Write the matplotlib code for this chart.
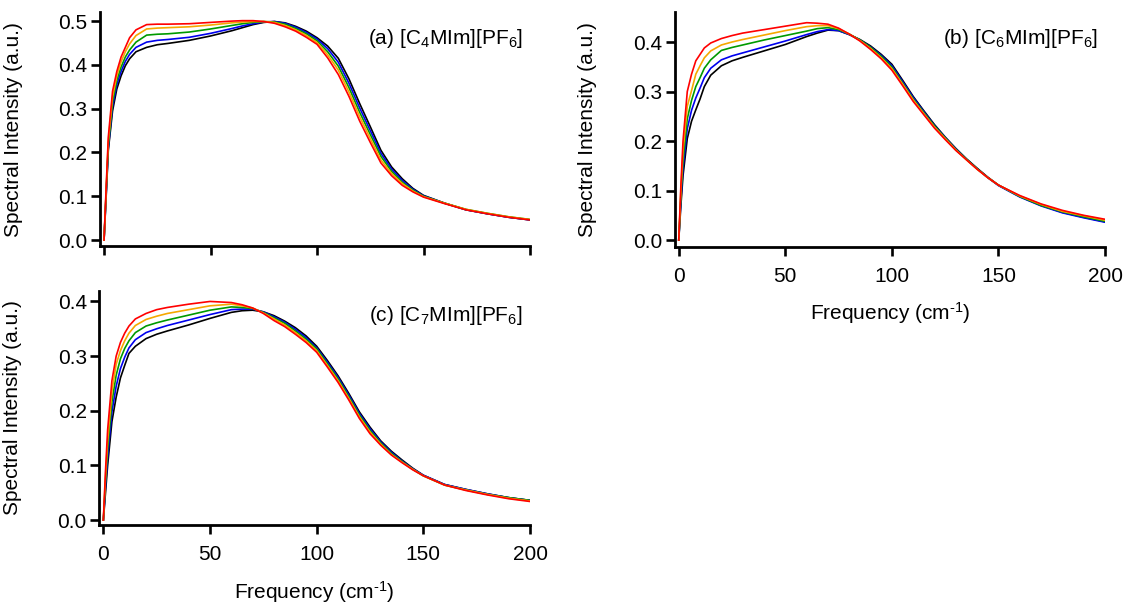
# -*- coding: utf-8 -*-
import numpy as np
import matplotlib
matplotlib.use("Agg")
import matplotlib.pyplot as plt

# --------------------
# data
# --------------------
freq = [0, 1, 2, 4, 6, 8, 10, 12, 15, 20, 25, 30, 40, 50, 60, 65, 70, 75, 80, 85, 90, 95, 100,
        105, 110, 115, 120, 125, 130, 135, 140, 145, 150, 160, 170, 180, 190, 200]

# (a) [C4MIm][PF6]
a_black = [0, 0.100, 0.205, 0.295, 0.345, 0.375, 0.398, 0.414, 0.430, 0.440, 0.446, 0.449, 0.456, 0.466, 0.478, 0.485, 0.492, 0.497, 0.499, 0.496, 0.488, 0.477, 0.462,
           0.443, 0.415, 0.368, 0.312, 0.259, 0.205, 0.167, 0.140, 0.118, 0.102, 0.084, 0.069, 0.060, 0.052, 0.046]
a_blue = [0, 0.105, 0.210, 0.305, 0.355, 0.385, 0.408, 0.424, 0.440, 0.452, 0.456, 0.458, 0.463, 0.472, 0.483, 0.489, 0.494, 0.498, 0.499, 0.495, 0.486, 0.474, 0.459,
          0.437, 0.406, 0.358, 0.302, 0.250, 0.198, 0.162, 0.136, 0.116, 0.101, 0.084, 0.069, 0.060, 0.052, 0.046]
a_green = [0, 0.110, 0.215, 0.315, 0.365, 0.395, 0.418, 0.434, 0.452, 0.468, 0.470, 0.471, 0.475, 0.482, 0.490, 0.494, 0.497, 0.499, 0.498, 0.493, 0.483, 0.471, 0.455,
           0.430, 0.397, 0.348, 0.292, 0.241, 0.191, 0.157, 0.132, 0.114, 0.100, 0.084, 0.070, 0.061, 0.053, 0.047]
a_orange = [0, 0.115, 0.225, 0.327, 0.375, 0.407, 0.430, 0.448, 0.467, 0.482, 0.484, 0.485, 0.487, 0.491, 0.496, 0.498, 0.499, 0.499, 0.497, 0.490, 0.480, 0.467, 0.451,
            0.423, 0.388, 0.338, 0.282, 0.232, 0.183, 0.152, 0.129, 0.112, 0.099, 0.084, 0.070, 0.061, 0.053, 0.047]
a_red = [0, 0.120, 0.235, 0.340, 0.385, 0.418, 0.440, 0.462, 0.480, 0.492, 0.493, 0.493, 0.494, 0.497, 0.500, 0.501, 0.501, 0.499, 0.495, 0.487, 0.477, 0.463, 0.447,
         0.416, 0.378, 0.328, 0.272, 0.223, 0.176, 0.147, 0.125, 0.110, 0.098, 0.083, 0.069, 0.060, 0.052, 0.046]

# (b) [C6MIm][PF6]
b_black = [0, 0.070, 0.130, 0.205, 0.240, 0.263, 0.285, 0.310, 0.333, 0.352, 0.362, 0.369, 0.382, 0.395, 0.411, 0.418, 0.424, 0.423, 0.415, 0.405, 0.392, 0.375, 0.355,
           0.323, 0.290, 0.261, 0.233, 0.208, 0.185, 0.164, 0.145, 0.127, 0.111, 0.088, 0.070, 0.056, 0.046, 0.037]
b_blue = [0, 0.080, 0.145, 0.225, 0.262, 0.287, 0.307, 0.328, 0.347, 0.364, 0.372, 0.378, 0.390, 0.402, 0.415, 0.421, 0.425, 0.423, 0.415, 0.404, 0.390, 0.373, 0.352,
          0.320, 0.288, 0.259, 0.231, 0.207, 0.184, 0.163, 0.144, 0.126, 0.110, 0.087, 0.069, 0.055, 0.045, 0.036]
b_green = [0, 0.090, 0.160, 0.245, 0.282, 0.310, 0.328, 0.347, 0.364, 0.383, 0.389, 0.394, 0.404, 0.413, 0.422, 0.427, 0.429, 0.425, 0.416, 0.404, 0.389, 0.371, 0.349,
           0.317, 0.285, 0.257, 0.230, 0.206, 0.183, 0.163, 0.144, 0.126, 0.111, 0.088, 0.070, 0.057, 0.047, 0.038]
b_orange = [0, 0.100, 0.180, 0.270, 0.302, 0.335, 0.352, 0.368, 0.382, 0.394, 0.400, 0.405, 0.414, 0.423, 0.431, 0.433, 0.433, 0.427, 0.416, 0.403, 0.387, 0.368, 0.346,
            0.315, 0.283, 0.255, 0.228, 0.205, 0.182, 0.162, 0.143, 0.126, 0.111, 0.089, 0.072, 0.058, 0.049, 0.040]
b_red = [0, 0.110, 0.200, 0.300, 0.335, 0.362, 0.375, 0.388, 0.398, 0.407, 0.413, 0.418, 0.425, 0.432, 0.439, 0.438, 0.436, 0.428, 0.416, 0.402, 0.385, 0.366, 0.343,
         0.312, 0.280, 0.253, 0.226, 0.203, 0.181, 0.162, 0.143, 0.126, 0.111, 0.090, 0.073, 0.060, 0.050, 0.042]

# (c) [C7MIm][PF6]
c_black = [0, 0.050, 0.100, 0.180, 0.225, 0.260, 0.283, 0.305, 0.318, 0.332, 0.340, 0.346, 0.357, 0.369, 0.380, 0.383, 0.384, 0.381, 0.374, 0.364, 0.352, 0.337, 0.318,
           0.292, 0.264, 0.232, 0.198, 0.170, 0.145, 0.126, 0.110, 0.095, 0.082, 0.065, 0.056, 0.048, 0.041, 0.036]
c_blue = [0, 0.060, 0.115, 0.198, 0.245, 0.277, 0.298, 0.315, 0.330, 0.343, 0.350, 0.356, 0.366, 0.376, 0.385, 0.386, 0.386, 0.381, 0.372, 0.362, 0.349, 0.334, 0.315,
          0.289, 0.261, 0.229, 0.195, 0.167, 0.143, 0.124, 0.108, 0.094, 0.082, 0.065, 0.056, 0.048, 0.041, 0.036]
c_green = [0, 0.070, 0.130, 0.216, 0.265, 0.295, 0.314, 0.328, 0.343, 0.355, 0.361, 0.366, 0.375, 0.384, 0.390, 0.389, 0.387, 0.380, 0.370, 0.360, 0.346, 0.331, 0.313,
           0.286, 0.258, 0.226, 0.192, 0.164, 0.141, 0.122, 0.107, 0.093, 0.081, 0.064, 0.055, 0.047, 0.041, 0.036]
c_orange = [0, 0.080, 0.145, 0.235, 0.285, 0.310, 0.328, 0.342, 0.356, 0.367, 0.373, 0.378, 0.385, 0.392, 0.395, 0.392, 0.388, 0.379, 0.368, 0.357, 0.343, 0.328, 0.310,
            0.283, 0.255, 0.223, 0.189, 0.161, 0.139, 0.120, 0.106, 0.093, 0.081, 0.064, 0.055, 0.047, 0.040, 0.035]
c_red = [0, 0.090, 0.165, 0.255, 0.300, 0.325, 0.342, 0.355, 0.368, 0.378, 0.385, 0.389, 0.395, 0.400, 0.398, 0.394, 0.388, 0.378, 0.365, 0.354, 0.340, 0.325, 0.307,
         0.280, 0.252, 0.220, 0.186, 0.158, 0.137, 0.119, 0.105, 0.092, 0.081, 0.064, 0.054, 0.046, 0.039, 0.034]

line_colors = ["black", "#0000ee", "#009a00", "#f5a800", "#ff0000"]
panel_texts = ["(a) [C$_4$MIm][PF$_6$]", "(b) [C$_6$MIm][PF$_6$]", "(c) [C$_7$MIm][PF$_6$]"]
a_ticks = [0.0, 0.1, 0.2, 0.3, 0.4, 0.5]
b_ticks = [0.0, 0.1, 0.2, 0.3, 0.4]
c_ticks = [0.0, 0.1, 0.2, 0.3, 0.4]
x_ticks = [0, 50, 100, 150, 200]

plt.rcParams["font.family"] = ["Liberation Sans", "DejaVu Sans"]
plt.rcParams["font.size"] = 15
plt.rcParams["mathtext.fontset"] = "custom"
plt.rcParams["mathtext.rm"] = "Liberation Sans"
plt.rcParams["mathtext.it"] = "Liberation Sans:italic"
plt.rcParams["mathtext.default"] = "regular"

fig = plt.figure(figsize=(11.26, 6.06), dpi=100)

# axes rectangles in figure fraction
ax_a = fig.add_axes([0.0888, 0.594, 0.3819, 0.386])
ax_b = fig.add_axes([0.5992, 0.5924, 0.3822, 0.3878])
ax_c = fig.add_axes([0.0882, 0.1337, 0.3825, 0.386])

panels = [
    (ax_a, [a_black, a_blue, a_green, a_orange, a_red], a_ticks, (-0.0137, 0.5205), 0.461),
    (ax_b, [b_black, b_blue, b_green, b_orange, b_red], b_ticks, (-0.014, 0.4606), 0.408),
    (ax_c, [c_black, c_blue, c_green, c_orange, c_red], c_ticks, (-0.009, 0.419), 0.375),
]

for i, (ax, series, yt, ylim, ty) in enumerate(panels):
    for y, col in zip(series, line_colors):
        ax.plot(freq, y, color=col, lw=1.2, solid_joinstyle="round")

    ax.set_xlim(-1.9, 200)
    ax.set_ylim(*ylim)
    ax.set_xticks(x_ticks)
    ax.set_yticks(yt)
    ax.set_yticklabels(["%.1f" % v for v in yt])

    ax.spines["top"].set_visible(False)
    ax.spines["right"].set_visible(False)
    ax.spines["left"].set_linewidth(2.0)
    ax.spines["bottom"].set_linewidth(2.0)
    ax.tick_params(direction="out", length=6.5, width=1.9, labelsize=15)
    ax.tick_params(axis="x", pad=8)
    ax.tick_params(axis="y", pad=2.5)

    ax.set_ylabel("Spectral Intensity (a.u.)", fontsize=15)
    ax.yaxis.set_label_coords(-0.18, 0.5)

    ax.text(196.5, ty, panel_texts[i], ha="right", va="center", fontsize=15)

# (a) shares the x-axis with (c): no tick labels
ax_a.tick_params(axis="x", labelbottom=False)

ax_b.set_xlabel("Frequency (cm$^{\\text{-1}}$)", fontsize=15)
ax_b.xaxis.set_label_coords(0.5, -0.225)
ax_c.set_xlabel("Frequency (cm$^{\\text{-1}}$)", fontsize=15)
ax_c.xaxis.set_label_coords(0.5, -0.232)

fig.savefig("out.png", dpi=100)
